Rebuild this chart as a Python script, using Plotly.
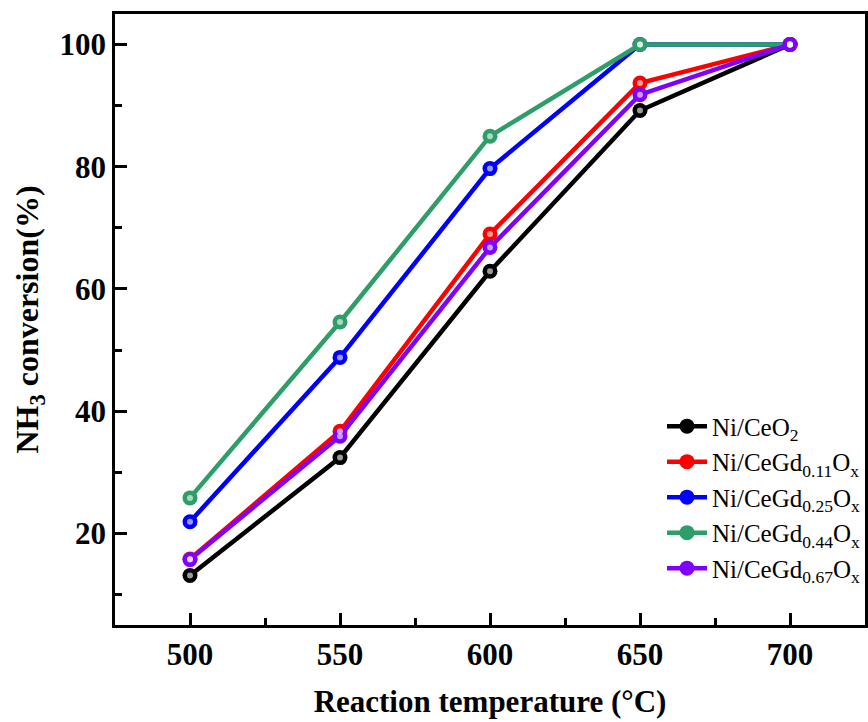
import plotly.graph_objects as go

temps = [500, 550, 600, 650, 700]
ni_ceo2 = [13.1, 32.4, 62.9, 89.2, 100]
ni_gd011 = [15.8, 36.7, 69.0, 93.7, 100]
ni_gd025 = [21.9, 48.8, 79.7, 100, 100]
ni_gd044 = [25.8, 54.6, 85.0, 100, 100]
ni_gd067 = [15.7, 35.9, 66.8, 91.8, 100]

names = ["Ni/CeO<sub>2</sub>", "Ni/CeGd<sub>0.11</sub>O<sub>x</sub>",
         "Ni/CeGd<sub>0.25</sub>O<sub>x</sub>", "Ni/CeGd<sub>0.44</sub>O<sub>x</sub>",
         "Ni/CeGd<sub>0.67</sub>O<sub>x</sub>"]
series = [ni_ceo2, ni_gd011, ni_gd025, ni_gd044, ni_gd067]
colors = ["#000000", "#FF0000", "#0000FF", "#2E9E68", "#8000FF"]

fig = go.Figure()
for name, ys, c in zip(names, series, colors):
    fig.add_trace(go.Scatter(
        x=temps, y=ys, name=name, mode="lines+markers",
        line=dict(color=c, width=4.5),
        marker=dict(size=15, color=c, symbol="circle", line=dict(width=0)),
        legendgroup=name,
    ))
for name, ys, c in zip(names, series, colors):
    fig.add_trace(go.Scatter(
        x=temps, y=ys, mode="markers", showlegend=False, legendgroup=name,
        marker=dict(size=6, color="rgba(255,255,255,0.6)", line=dict(width=0)),
        hoverinfo="skip",
    ))

fig.update_layout(
    width=868, height=722,
    margin=dict(l=115, r=0, t=14, b=97),
    plot_bgcolor="white", paper_bgcolor="white",
    font=dict(family="Liberation Serif", color="black"),
    showlegend=True,
    legend=dict(x=1.0, y=0.055, xanchor="right", yanchor="bottom",
                font=dict(size=25, family="Liberation Serif"),
                bgcolor="rgba(0,0,0,0)", tracegroupgap=0, itemwidth=40),
)
fig.update_xaxes(
    range=[475, 725], tick0=500, dtick=50,
    showline=True, linecolor="black", linewidth=2.5, mirror=True,
    ticks="inside", ticklen=12, tickwidth=2.5, tickcolor="black",
    minor=dict(ticks="inside", ticklen=7, tickwidth=2.5, tickcolor="black", dtick=25, tick0=500),
    showgrid=False, zeroline=False,
    tickfont=dict(size=31, family="Liberation Serif", weight="bold"),
    title=dict(text="<b>Reaction temperature (°C)</b>", font=dict(size=31, family="Liberation Serif"), standoff=20),
)
fig.update_yaxes(
    range=[5, 105], tick0=0, dtick=20,
    showline=True, linecolor="black", linewidth=2.5, mirror=True,
    ticks="inside", ticklen=12, tickwidth=2.5, tickcolor="black",
    minor=dict(ticks="inside", ticklen=7, tickwidth=2.5, tickcolor="black", dtick=10, tick0=0),
    showgrid=False, zeroline=False,
    tickfont=dict(size=31, family="Liberation Serif", weight="bold"),
    title=dict(text="<b>NH<sub>3</sub> conversion(%)</b>", font=dict(size=32, family="Liberation Serif"), standoff=12),
)

fig.write_html("out.html")
